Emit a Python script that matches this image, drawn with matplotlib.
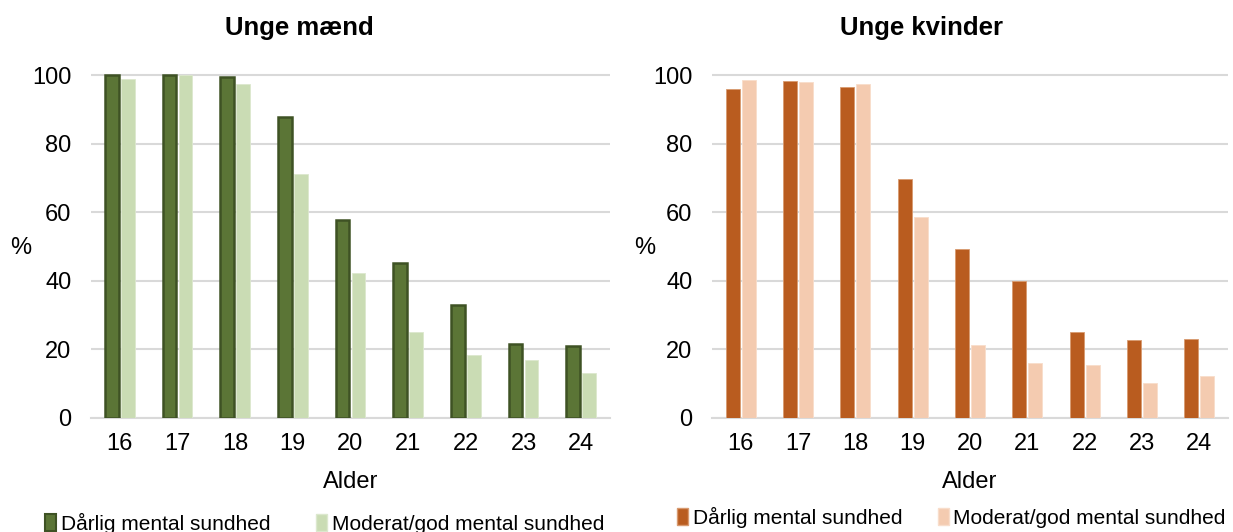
import numpy as np
import matplotlib

matplotlib.use("Agg")

import matplotlib.pyplot as plt
from matplotlib.patches import Patch

plt.rcParams["font.family"] = ["Liberation Sans", "DejaVu Sans"]

ages = ["16", "17", "18", "19", "20", "21", "22", "23", "24"]

men_poor = [100.0, 100.0, 99.3, 87.9, 57.8, 45.3, 32.9, 21.7, 21.1]
men_good = [98.8, 100.0, 97.5, 71.2, 42.2, 25.2, 18.3, 17.0, 13.1]

women_poor = [95.8, 98.3, 96.4, 69.7, 49.4, 39.8, 25.2, 22.7, 23.0]
women_good = [98.6, 97.9, 97.4, 58.6, 21.4, 16.1, 15.4, 10.3, 12.3]

series_names = ["Dårlig mental sundhed", "Moderat/god mental sundhed"]
titles = ["Unge mænd", "Unge kvinder"]

W, H = 1233, 532
fig = plt.figure(figsize=(W / 100, H / 100), dpi=100)

grid_col = "#D9D9D9"
fs = 17
fs_title = 18.5
fs_leg = 15


def px_axes(x0, x1, ytop, ybot, ymax):
    # pixel box -> figure fraction, top stretched so the 100 line is not clipped
    h = (ybot - ytop) * ymax / 100.0
    return [x0 / W, 1 - ybot / H, (x1 - x0) / W, h / H]


def draw_panel(rect, poor, good, c_poor, e_poor, c_good, e_good, lw_poor):
    ax = fig.add_axes(rect)
    x = np.arange(len(ages))
    w = 0.24
    ax.bar(x - 0.14, poor, width=w, color=c_poor, edgecolor=e_poor,
           linewidth=lw_poor, zorder=3)
    ax.bar(x + 0.14, good, width=w, color=c_good, edgecolor=e_good,
           linewidth=0.6, zorder=3)
    ax.set_xlim(-0.5, len(ages) - 0.5)
    ax.set_ylim(0, 101.5)
    ax.set_yticks([0, 20, 40, 60, 80, 100])
    ax.set_xticks(x)
    ax.set_xticklabels(ages)
    ax.yaxis.grid(True, color=grid_col, linewidth=1.5, zorder=0)
    ax.set_axisbelow(True)
    for s in ["top", "right", "left"]:
        ax.spines[s].set_visible(False)
    ax.spines["bottom"].set_color(grid_col)
    ax.spines["bottom"].set_linewidth(1.5)
    ax.tick_params(axis="both", length=0, labelsize=fs, colors="black")
    ax.tick_params(axis="x", pad=11)
    ax.tick_params(axis="y", pad=14)
    ax.set_xlabel("Alder", fontsize=fs, labelpad=11)
    return ax


ax1 = draw_panel(px_axes(91, 610, 75, 418, 101.5), men_poor, men_good,
                 "#5B7536", "#3E5224", "#CADCB4", "#DCE8CE", 1.8)
ax2 = draw_panel(px_axes(712, 1228, 75, 418, 101.5), women_poor, women_good,
                 "#B95C1F", "#D89A70", "#F4CBB0", "#F8DDCB", 0.6)

fig.text(299 / W, 1 - 28 / H, titles[0], fontsize=fs_title,
         fontweight="bold", ha="center", va="center")
fig.text(922 / W, 1 - 28 / H, titles[1], fontsize=fs_title,
         fontweight="bold", ha="center", va="center")
fig.text(21 / W, 1 - 248 / H, "%", fontsize=fs, ha="center", va="center")
fig.text(645 / W, 1 - 248 / H, "%", fontsize=fs, ha="center", va="center")

h_men = [Patch(facecolor="#5B7536", edgecolor="#3E5224", linewidth=1.5),
         Patch(facecolor="#CADCB4", edgecolor="#DCE8CE")]
h_women = [Patch(facecolor="#B95C1F", edgecolor="#D89A70"),
           Patch(facecolor="#F4CBB0", edgecolor="#F8DDCB")]

fig.legend(h_men, series_names, loc="center left",
           bbox_to_anchor=(45 / W, 1 - 523 / H), ncol=2, frameon=False,
           fontsize=fs_leg, handlelength=0.55, handleheight=0.9,
           handletextpad=0.2, columnspacing=2.2, borderaxespad=0,
           borderpad=0)
fig.legend(h_women, series_names, loc="center left",
           bbox_to_anchor=(677 / W, 1 - 517 / H), ncol=2, frameon=False,
           fontsize=fs_leg, handlelength=0.55, handleheight=0.9,
           handletextpad=0.2, columnspacing=1.7, borderaxespad=0,
           borderpad=0)

fig.savefig("out.png", dpi=100)
